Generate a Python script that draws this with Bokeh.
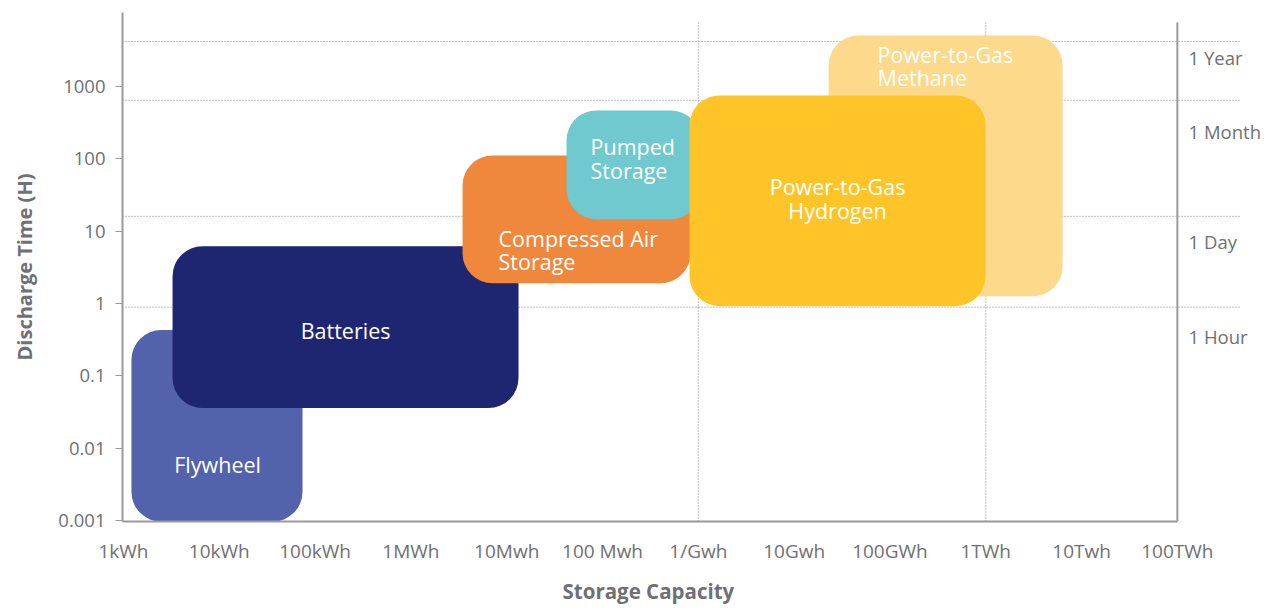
from bokeh.plotting import figure
from bokeh.models import Range1d, FixedTicker, ColumnDataSource, Title
from bokeh.embed import file_html
from bokeh.resources import INLINE
from bokeh.core.properties import value

# ---- data ----
x_ticks_kwh = [1, 10, 100, 1e3, 1e4, 1e5, 1e6, 1e7, 1e8, 1e9, 1e10, 1e11]
x_tick_labels = ["1kWh", "10kWh", "100kWh", "1MWh", "10Mwh", "100 Mwh",
                 "1/Gwh", "10Gwh", "100GWh", "1TWh", "10Twh", "100TWh"]
y_ticks_h = [0.001, 0.01, 0.1, 1, 10, 100, 1000]
y_tick_labels = ["0.001", "0.01", "0.1", "1", "10", "100", "1000"]

tech_names = ["Flywheel", "Batteries", "Compressed Air\nStorage", "Pumped\nStorage",
              "Power-to-Gas\nMethane", "Power-to-Gas\nHydrogen"]
cap_low_kwh = [1.21, 3.25, 3460, 42100, 2.29e7, 8.09e5]
cap_high_kwh = [73.9, 13280, 8.3e5, 1.054e6, 6.34e9, 9.95e8]
time_low_h = [0.00097, 0.036, 1.9, 14.6, 1.26, 0.92]
time_high_h = [0.43, 6.2, 111, 465, 5040, 750]
tech_colors = ["#5262AB", "#1E2672", "#EF873C", "#6FC9CE", "#FDD98B", "#FEC428"]

# label anchor points (kWh, h)
label_x = [9.6, 208, 8210, 75000, 7.43e7, 2.84e7]
label_y = [0.0059, 0.43, 5.5, 100, 1914, 28.4]
label_align = ["center", "center", "left", "left", "left", "center"]

period_names = ["1 Year", "1 Month", "1 Day", "1 Hour"]
period_line_h = [4170, 640, 16, 0.89]
period_label_h = [2500, 239, 7.2, 0.35]
period_label_x = 1.31e11
period_line_end_kwh = 4.46e11

vline_kwh = [1e6, 1e9]
vline_top_h = 8130
right_axis_kwh = 1e11
right_axis_top_h = 7620

x_title = "Storage Capacity"
y_title = "Discharge Time (H)"

x_min, x_max = 10 ** -0.0104, 10 ** 11.92
y_min, y_max = 10 ** -3.011, 10 ** 4.02

FONT = "Open Sans"
GRAY = "#6f7073"
AXIS = "#9a9a9a"
DOT = "#8a8a8a"

p = figure(width=1265, height=612, x_axis_type="log", y_axis_type="log",
           x_range=Range1d(x_min, x_max), y_range=Range1d(y_min, y_max),
           output_backend="svg", toolbar_location=None,
           min_border_left=122, min_border_right=0, min_border_top=12, min_border_bottom=91)
p.outline_line_color = None
p.xgrid.visible = False
p.ygrid.visible = False
p.background_fill_color = "white"

# dotted horizontal period lines
for yv in period_line_h:
    p.line([x_min, period_line_end_kwh], [yv, yv], line_color=DOT, line_width=1, line_dash="1 2")
# dotted vertical lines
for xv in vline_kwh:
    p.line([xv, xv], [y_min, vline_top_h], line_color=DOT, line_width=1, line_dash="1 2")
# right axis line
p.line([right_axis_kwh, right_axis_kwh], [y_min, right_axis_top_h], line_color=AXIS, line_width=2)

# technology boxes
src = ColumnDataSource(dict(left=cap_low_kwh, right=cap_high_kwh, bottom=time_low_h,
                            top=time_high_h, color=tech_colors))
p.quad(left="left", right="right", bottom="bottom", top="top", source=src,
       fill_color="color", line_color=None, border_radius=30)

# labels in boxes
for al in ["center", "left"]:
    idx = [i for i, a in enumerate(label_align) if a == al]
    s = ColumnDataSource(dict(x=[label_x[i] for i in idx], y=[label_y[i] for i in idx],
                              t=[tech_names[i] for i in idx]))
    p.text(x="x", y="y", text="t", source=s, text_color="white",
           text_font=value(FONT), text_font_size="21.5px", text_align=al,
           text_baseline="middle", text_line_height=0.82)

# period labels
ps = ColumnDataSource(dict(x=[period_label_x] * len(period_names), y=period_label_h, t=period_names))
p.text(x="x", y="y", text="t", source=ps, text_color=GRAY, text_font=value(FONT),
       text_font_size="18.5px", text_align="left", text_baseline="middle")

# axes
xa = p.xaxis[0]
xa.ticker = FixedTicker(ticks=x_ticks_kwh)
xa.major_label_overrides = {t: l for t, l in zip(x_ticks_kwh, x_tick_labels)}
xa.minor_tick_line_color = None
xa.major_tick_line_color = None
xa.major_tick_out = 0
xa.major_tick_in = 0
xa.axis_line_color = AXIS
xa.axis_line_width = 2
xa.bounds = (x_min, right_axis_kwh)
xa.major_label_standoff = 16
xa.major_label_text_font = FONT
xa.major_label_text_font_size = "19px"
xa.major_label_text_color = GRAY

# x title placed under the drawn axis (not centred on the full frame)
p.add_layout(Title(text=x_title, align="left", offset=440, standoff=16,
                   text_font=FONT, text_font_style="bold", text_font_size="20.5px",
                   text_color=GRAY), "below")

ya = p.yaxis[0]
ya.ticker = FixedTicker(ticks=y_ticks_h)
ya.major_label_overrides = {t: l for t, l in zip(y_ticks_h, y_tick_labels)}
ya.minor_tick_line_color = None
ya.major_tick_line_color = AXIS
ya.major_tick_out = 7
ya.major_tick_in = 0
ya.axis_line_color = AXIS
ya.axis_line_width = 2
ya.major_label_standoff = 10
ya.major_label_text_font = FONT
ya.major_label_text_font_size = "18.5px"
ya.major_label_text_color = GRAY
ya.axis_label = y_title
ya.axis_label_text_font = FONT
ya.axis_label_text_font_style = "bold"
ya.axis_label_text_font_size = "20px"
ya.axis_label_text_color = GRAY
ya.axis_label_standoff = 17

open("out.html", "w").write(file_html(p, INLINE))
